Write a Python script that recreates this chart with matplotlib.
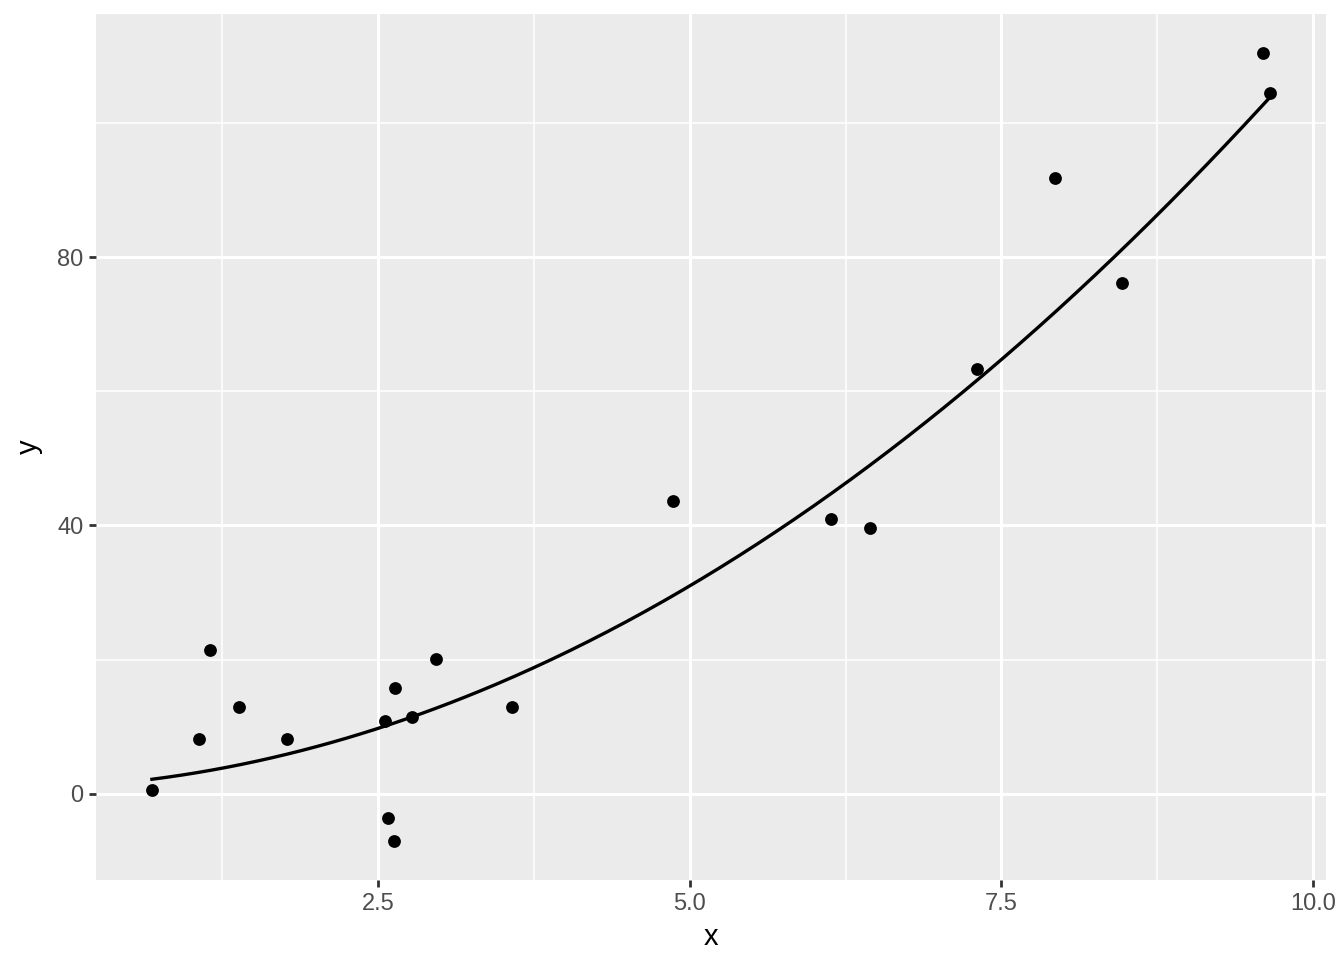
import numpy as np
import matplotlib
matplotlib.use('Agg')
import matplotlib.pyplot as plt

x = [0.684, 1.06, 1.148, 1.38, 1.764, 2.556, 2.58, 2.628, 2.636, 2.772,
     2.964, 3.572, 4.868, 6.132, 6.444, 7.30, 7.93, 8.465, 9.60, 9.655]
y = [0.6, 8.1, 21.5, 13.0, 8.1, 10.9, -3.6, -7.0, 15.7, 11.5,
     20.1, 13.0, 43.6, 40.9, 39.6, 63.4, 91.8, 76.1, 110.4, 104.5]
# coefficients of the model curve (x^2, x, 1)
curve_coef = [1.0, 1.0, 1.0]
xticks = [2.5, 5.0, 7.5, 10.0]
xticklabels = ['2.5', '5.0', '7.5', '10.0']
xminor = [1.25, 3.75, 6.25, 8.75]
yticks = [0, 40, 80]
yminor = [-20, 20, 60, 100]

plt.rcParams['font.family'] = ['Liberation Sans', 'DejaVu Sans']

fig = plt.figure(figsize=(13.44, 9.6), dpi=100)
ax = fig.add_axes([96/1344, 80/960, 1230/1344, 866/960])
ax.set_facecolor('#EBEBEB')

xs = np.linspace(min(x), max(x), 300)
ax.plot(xs, np.polyval(curve_coef, xs), color='black', lw=2.4, zorder=3)
ax.scatter(x, y, s=85, color='black', zorder=4, linewidths=0)

ax.set_xticks(xticks)
ax.set_xticklabels(xticklabels)
ax.set_yticks(yticks)
ax.set_xticks(xminor, minor=True)
ax.set_yticks(yminor, minor=True)

xr = max(x) - min(x)
yr = max(y) - min(y)
ax.set_xlim(min(x) - 0.05*xr, max(x) + 0.05*xr)
ax.set_ylim(min(y) - 0.05*yr, max(y) + 0.05*yr)

ax.grid(which='major', color='white', lw=2.2, zorder=0)
ax.grid(which='minor', color='white', lw=1.1, zorder=0)
ax.set_axisbelow(True)
for s in ax.spines.values():
    s.set_visible(False)
ax.tick_params(which='major', length=5, width=2, color='#333333', labelsize=17, labelcolor='#4D4D4D', pad=4)
ax.tick_params(which='minor', length=0)
ax.set_xlabel('x', fontsize=21, labelpad=6)
ax.set_ylabel('y', fontsize=21, labelpad=10)

fig.savefig('out.png', dpi=100)
